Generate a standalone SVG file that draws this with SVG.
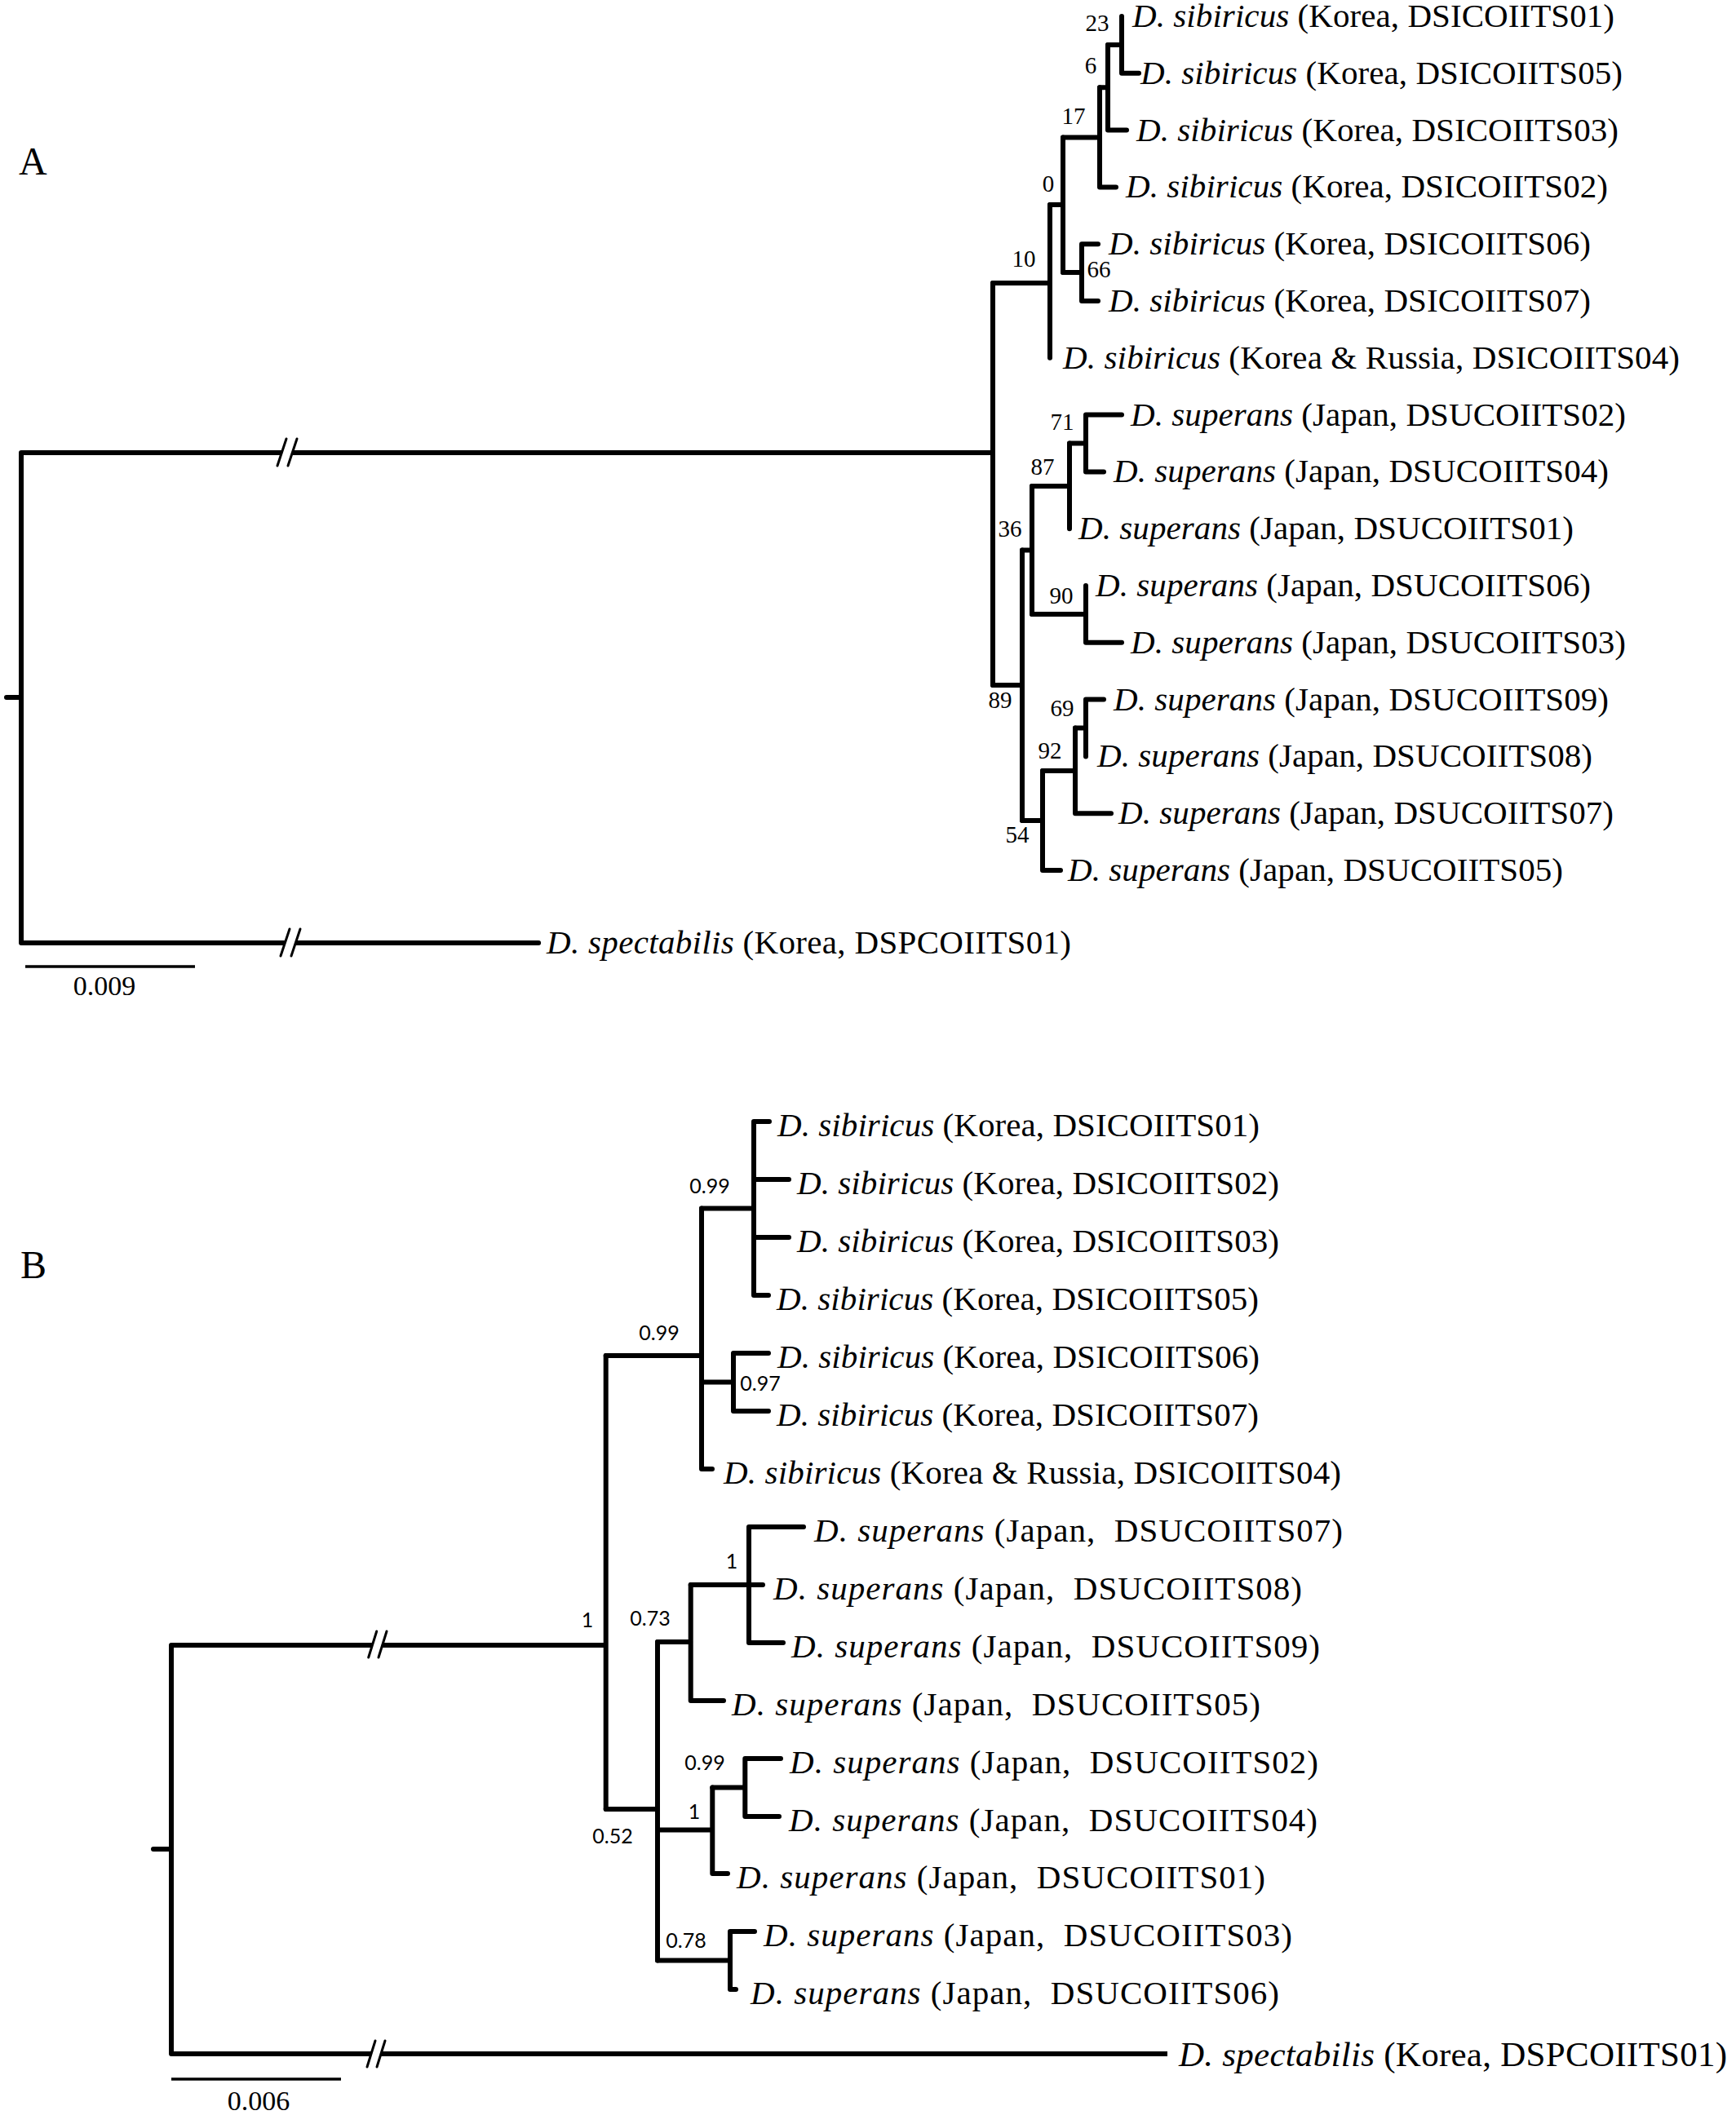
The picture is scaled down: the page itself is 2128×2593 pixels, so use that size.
<svg xmlns="http://www.w3.org/2000/svg" width="2128" height="2593" viewBox="0 0 2128 2593">
<style>
.br{fill:none;stroke:#000;stroke-width:6;stroke-linecap:round;stroke-linejoin:round}
.bt{fill:none;stroke:#000;stroke-width:6;stroke-linecap:butt}
.brk{fill:none;stroke:#000;stroke-width:3;stroke-linecap:round}
.bar{fill:none;stroke:#000;stroke-width:3.5}
.lbl{font-family:"Liberation Serif","Times New Roman",serif;font-size:41px;fill:#000}
.it{font-style:italic}
.supA{font-family:"Liberation Serif","Times New Roman",serif;font-size:29px;text-anchor:middle;fill:#000}
.supB{font-family:Lato,"Liberation Sans",sans-serif;font-size:25px;text-anchor:middle;fill:#000}
.panel{font-family:"Liberation Serif","Times New Roman",serif;font-size:48px;fill:#000}
.sc{font-family:"Liberation Serif","Times New Roman",serif;font-size:34px;text-anchor:middle;fill:#000}
</style>
<rect width="2128" height="2593" fill="#fff"/>

<!-- ===== Panel A ===== -->
<g id="A-panel-label"><text class="panel" x="23" y="214">A</text></g>
<g id="A-connectors">
  <path class="br" d="M8,855 H26 M26,555 V1156"/>
  <path class="bt" d="M26,555 H345.5 M358.5,555 H1217"/>
  <path class="brk" d="M340,571 L351,538 M353,571 L364,538"/>
  <path class="bt" d="M26,1156 H349.5 M362.5,1156 H660"/>
  <path class="br" d="M660,1156 H660.1"/>
  <path class="brk" d="M344,1172 L355,1139 M357,1172 L368,1139"/>
  <path class="br" d="M1217,347 V840"/>
  <path class="br" d="M1217,347 H1287 M1287,251 V438.8"/>
  <path class="br" d="M1287,251 H1303 M1303,168.4 V334"/>
  <path class="br" d="M1303,168.4 H1348 M1348,107.3 V229.4 H1368"/>
  <path class="br" d="M1348,107.3 H1358 M1358,55 V159.6 H1381"/>
  <path class="br" d="M1358,55 H1375 M1375,20 V89.8 H1396"/>
  <path class="br" d="M1303,334 H1326 M1346,299.2 H1326 V369 H1346"/>
  <path class="br" d="M1217,840 H1253 M1253,674.5 V1006"/>
  <path class="br" d="M1253,674.5 H1265 M1265,596 V753"/>
  <path class="br" d="M1265,596 H1311 M1311,543.5 V648.2"/>
  <path class="br" d="M1311,543.5 H1331 M1375,508.6 H1331 V578.4 H1353"/>
  <path class="br" d="M1265,753 H1331 M1331,718 V787.8 H1375"/>
  <path class="br" d="M1253,1006 H1278 M1278,945 V1067 H1300"/>
  <path class="br" d="M1278,945 H1318 M1318,892.5 V997.2 H1362"/>
  <path class="br" d="M1318,892.5 H1331 M1353,857.6 H1331 V927.4"/>
  <path class="bar" d="M31,1185 H239"/>
</g>
<g id="A-support">
  <text class="supA" x="1345" y="38">23</text>
  <text class="supA" x="1337" y="90">6</text>
  <text class="supA" x="1316" y="152">17</text>
  <text class="supA" x="1285" y="235">0</text>
  <text class="supA" x="1255" y="327">10</text>
  <text class="supA" x="1347" y="340">66</text>
  <text class="supA" x="1302" y="527">71</text>
  <text class="supA" x="1278" y="582">87</text>
  <text class="supA" x="1238" y="658">36</text>
  <text class="supA" x="1301" y="740">90</text>
  <text class="supA" x="1226" y="868">89</text>
  <text class="supA" x="1302" y="878">69</text>
  <text class="supA" x="1287" y="930">92</text>
  <text class="supA" x="1247" y="1033">54</text>
</g>
<g id="A-sib01"><text class="lbl" x="1388" y="33" textLength="591" lengthAdjust="spacing"><tspan class="it">D. sibiricus</tspan> (Korea, DSICOIITS01)</text></g>
<g id="A-sib05"><text class="lbl" x="1398" y="103" textLength="591" lengthAdjust="spacing"><tspan class="it">D. sibiricus</tspan> (Korea, DSICOIITS05)</text></g>
<g id="A-sib03"><text class="lbl" x="1393" y="173" textLength="591" lengthAdjust="spacing"><tspan class="it">D. sibiricus</tspan> (Korea, DSICOIITS03)</text></g>
<g id="A-sib02"><text class="lbl" x="1380" y="242" textLength="591" lengthAdjust="spacing"><tspan class="it">D. sibiricus</tspan> (Korea, DSICOIITS02)</text></g>
<g id="A-sib06"><text class="lbl" x="1359" y="312" textLength="591" lengthAdjust="spacing"><tspan class="it">D. sibiricus</tspan> (Korea, DSICOIITS06)</text></g>
<g id="A-sib07"><text class="lbl" x="1359" y="382" textLength="591" lengthAdjust="spacing"><tspan class="it">D. sibiricus</tspan> (Korea, DSICOIITS07)</text></g>
<g id="A-sib04"><text class="lbl" x="1303" y="452" textLength="756" lengthAdjust="spacing"><tspan class="it">D. sibiricus</tspan> (Korea &amp; Russia, DSICOIITS04)</text></g>
<g id="A-sup02"><text class="lbl" x="1386" y="522" textLength="607" lengthAdjust="spacing"><tspan class="it">D. superans</tspan> (Japan, DSUCOIITS02)</text></g>
<g id="A-sup04"><text class="lbl" x="1365" y="591" textLength="607" lengthAdjust="spacing"><tspan class="it">D. superans</tspan> (Japan, DSUCOIITS04)</text></g>
<g id="A-sup01"><text class="lbl" x="1322" y="661" textLength="607" lengthAdjust="spacing"><tspan class="it">D. superans</tspan> (Japan, DSUCOIITS01)</text></g>
<g id="A-sup06"><text class="lbl" x="1343" y="731" textLength="607" lengthAdjust="spacing"><tspan class="it">D. superans</tspan> (Japan, DSUCOIITS06)</text></g>
<g id="A-sup03"><text class="lbl" x="1386" y="801" textLength="607" lengthAdjust="spacing"><tspan class="it">D. superans</tspan> (Japan, DSUCOIITS03)</text></g>
<g id="A-sup09"><text class="lbl" x="1365" y="871" textLength="607" lengthAdjust="spacing"><tspan class="it">D. superans</tspan> (Japan, DSUCOIITS09)</text></g>
<g id="A-sup08"><text class="lbl" x="1345" y="940" textLength="607" lengthAdjust="spacing"><tspan class="it">D. superans</tspan> (Japan, DSUCOIITS08)</text></g>
<g id="A-sup07"><text class="lbl" x="1371" y="1010" textLength="607" lengthAdjust="spacing"><tspan class="it">D. superans</tspan> (Japan, DSUCOIITS07)</text></g>
<g id="A-sup05"><text class="lbl" x="1309" y="1080" textLength="607" lengthAdjust="spacing"><tspan class="it">D. superans</tspan> (Japan, DSUCOIITS05)</text></g>
<g id="A-spe01"><text class="lbl" x="670" y="1169" textLength="643" lengthAdjust="spacing"><tspan class="it">D. spectabilis</tspan> (Korea, DSPCOIITS01)</text></g>
<g id="A-scale"><text class="sc" x="128" y="1220">0.009</text></g>

<!-- ===== Panel B ===== -->
<g id="B-panel-label"><text class="panel" x="25" y="1567">B</text></g>
<g id="B-connectors">
  <path class="br" d="M188,2267 H210 M210,2017 V2518"/>
  <path class="bt" d="M210,2017 H456.7 M469,2017 H742.7"/>
  <path class="brk" d="M451.7,2032 L461.7,2000 M464,2032 L474,2000"/>
  <path class="bt" d="M210,2518 H455 M467,2518 H1431"/>
  <path class="brk" d="M450,2534 L460,2502 M462,2534 L472,2502"/>
  <path class="br" d="M742.7,1662 V2218"/>
  <path class="br" d="M742.7,1662 H860 M860,1481.5 V1801 H873"/>
  <path class="br" d="M860,1481.5 H924 M943,1375 H924 V1588 H942 M924,1446 H967 M924,1517 H967"/>
  <path class="br" d="M860,1694.5 H899 M942,1659 H899 V1730 H942"/>
  <path class="br" d="M742.7,2218 H806 M806,2013 V2403.5"/>
  <path class="br" d="M806,2013 H846.7 M846.7,1943 V2085 H887"/>
  <path class="br" d="M846.7,1943 H935 M985,1872 H918 V2014 H960"/>
  <path class="br" d="M806,2243.5 H873.3 M873.3,2191.5 V2297 H892"/>
  <path class="br" d="M873.3,2191.5 H913.3 M957,2156 H913.3 V2227 H955"/>
  <path class="br" d="M806,2403.5 H895 M925,2368 H895 V2439 H902"/>
  <path class="bar" d="M210,2549 H418"/>
</g>
<g id="B-support">
  <text class="supB" x="870" y="1463">0.99</text>
  <text class="supB" x="808" y="1643">0.99</text>
  <text class="supB" x="932" y="1705">0.97</text>
  <text class="supB" x="720" y="1995">1</text>
  <text class="supB" x="797" y="1993">0.73</text>
  <text class="supB" x="897" y="1923">1</text>
  <text class="supB" x="864" y="2170">0.99</text>
  <text class="supB" x="851" y="2230">1</text>
  <text class="supB" x="751" y="2260">0.52</text>
  <text class="supB" x="841" y="2388">0.78</text>
</g>
<g id="B-sib01"><text class="lbl" x="953" y="1393" textLength="591" lengthAdjust="spacing"><tspan class="it">D. sibiricus</tspan> (Korea, DSICOIITS01)</text></g>
<g id="B-sib02"><text class="lbl" x="977" y="1464" textLength="591" lengthAdjust="spacing"><tspan class="it">D. sibiricus</tspan> (Korea, DSICOIITS02)</text></g>
<g id="B-sib03"><text class="lbl" x="977" y="1535" textLength="591" lengthAdjust="spacing"><tspan class="it">D. sibiricus</tspan> (Korea, DSICOIITS03)</text></g>
<g id="B-sib05"><text class="lbl" x="952" y="1606" textLength="591" lengthAdjust="spacing"><tspan class="it">D. sibiricus</tspan> (Korea, DSICOIITS05)</text></g>
<g id="B-sib06"><text class="lbl" x="953" y="1677" textLength="591" lengthAdjust="spacing"><tspan class="it">D. sibiricus</tspan> (Korea, DSICOIITS06)</text></g>
<g id="B-sib07"><text class="lbl" x="952" y="1748" textLength="591" lengthAdjust="spacing"><tspan class="it">D. sibiricus</tspan> (Korea, DSICOIITS07)</text></g>
<g id="B-sib04"><text class="lbl" x="887" y="1819" textLength="757" lengthAdjust="spacing"><tspan class="it">D. sibiricus</tspan> (Korea &amp; Russia, DSICOIITS04)</text></g>
<g id="B-sup07"><text class="lbl" x="998" y="1890" textLength="648" lengthAdjust="spacing"><tspan class="it">D. superans</tspan> (Japan,&#160; DSUCOIITS07)</text></g>
<g id="B-sup08"><text class="lbl" x="948" y="1961" textLength="648" lengthAdjust="spacing"><tspan class="it">D. superans</tspan> (Japan,&#160; DSUCOIITS08)</text></g>
<g id="B-sup09"><text class="lbl" x="970" y="2032" textLength="648" lengthAdjust="spacing"><tspan class="it">D. superans</tspan> (Japan,&#160; DSUCOIITS09)</text></g>
<g id="B-sup05"><text class="lbl" x="897" y="2103" textLength="648" lengthAdjust="spacing"><tspan class="it">D. superans</tspan> (Japan,&#160; DSUCOIITS05)</text></g>
<g id="B-sup02"><text class="lbl" x="968" y="2174" textLength="648" lengthAdjust="spacing"><tspan class="it">D. superans</tspan> (Japan,&#160; DSUCOIITS02)</text></g>
<g id="B-sup04"><text class="lbl" x="967" y="2245" textLength="648" lengthAdjust="spacing"><tspan class="it">D. superans</tspan> (Japan,&#160; DSUCOIITS04)</text></g>
<g id="B-sup01"><text class="lbl" x="903" y="2315" textLength="648" lengthAdjust="spacing"><tspan class="it">D. superans</tspan> (Japan,&#160; DSUCOIITS01)</text></g>
<g id="B-sup03"><text class="lbl" x="936" y="2386" textLength="648" lengthAdjust="spacing"><tspan class="it">D. superans</tspan> (Japan,&#160; DSUCOIITS03)</text></g>
<g id="B-sup06"><text class="lbl" x="920" y="2457" textLength="648" lengthAdjust="spacing"><tspan class="it">D. superans</tspan> (Japan,&#160; DSUCOIITS06)</text></g>
<g id="B-spe01"><text class="lbl" x="1445" y="2533" textLength="672" lengthAdjust="spacing" style="font-size:43px"><tspan class="it">D. spectabilis</tspan> (Korea, DSPCOIITS01)</text></g>
<g id="B-scale"><text class="sc" x="317" y="2587">0.006</text></g>
</svg>
